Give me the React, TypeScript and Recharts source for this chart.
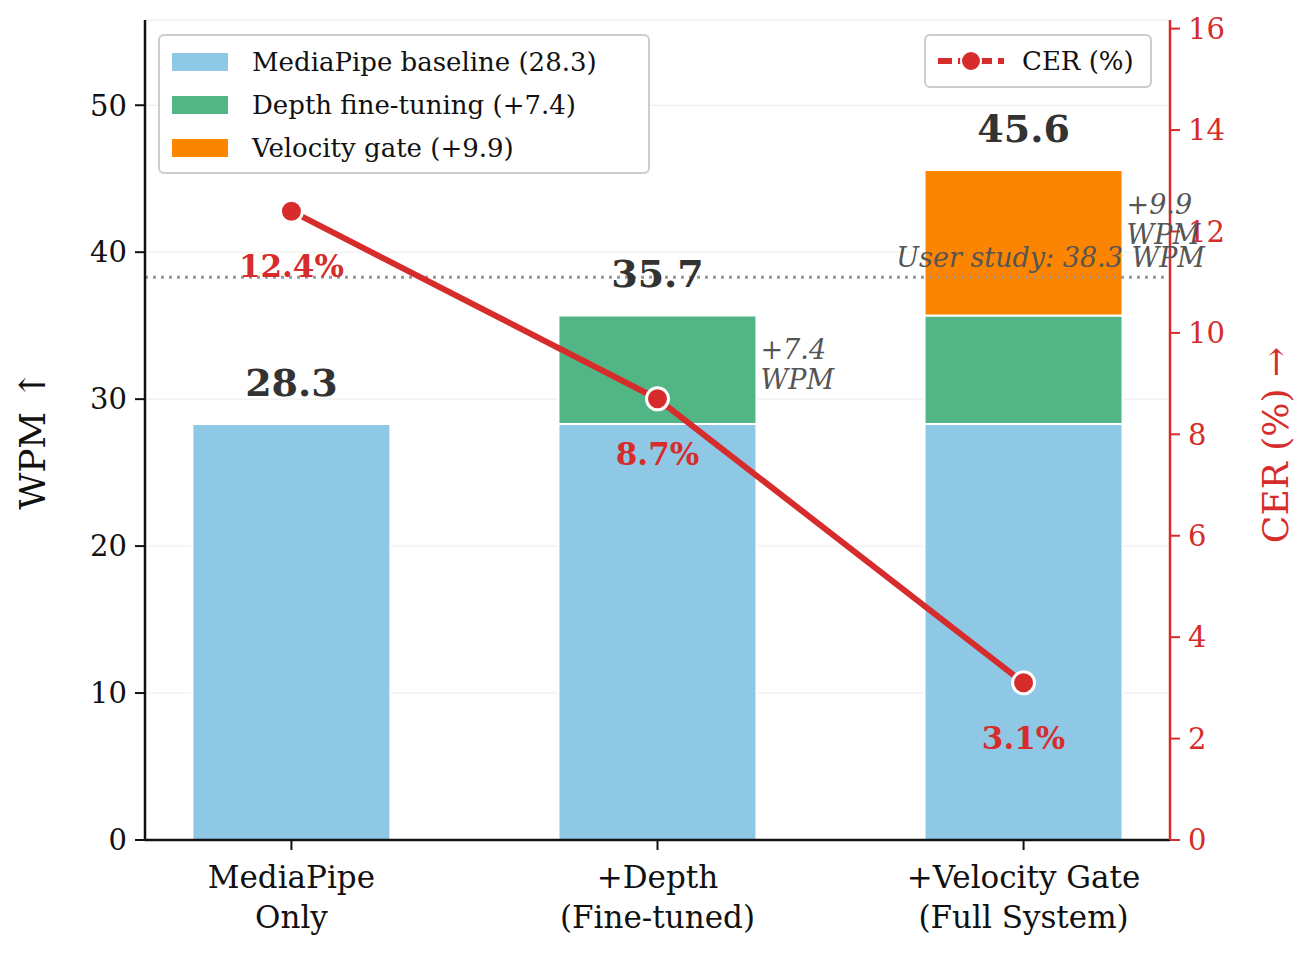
import React from "react";
import {
  ComposedChart, Bar, Line, XAxis, YAxis, CartesianGrid, ReferenceLine, LabelList,
} from "recharts";

const categories = [["MediaPipe", "Only"], ["+Depth", "(Fine-tuned)"], ["+Velocity Gate", "(Full System)"]];
const baseline = [28.3, 28.3, 28.3];
const depth = [0, 7.4, 7.4];
const velocity = [0, 0, 9.9];
const totals = [28.3, 35.7, 45.6];
const cer = [12.4, 8.7, 3.1];
const gainNotes = ["", "+7.4", "+9.9"];
const leftTicks = [0, 10, 20, 30, 40, 50];
const rightTicks = [0, 2, 4, 6, 8, 10, 12, 14, 16];
const userStudy = 38.3;

const data = categories.map((c, i) => ({
  x: i, base: baseline[i], depth: depth[i], vel: velocity[i], total: totals[i], cer: cer[i], note: gainNotes[i],
}));

const FONT = "'DejaVu Serif', serif";
const RED = "#d62c2c";
const HALF_BAR = 99;

const XTick = ({ x, y, payload }: any) => {
  const lines = categories[payload.value] || [];
  return (
    <text x={x} y={y + 6} textAnchor="middle" fontFamily={FONT} fontSize={31} fill="#111">
      {lines.map((l, i) => (
        <tspan key={i} x={x} dy={i === 0 ? 30 : 40}>{l}</tspan>
      ))}
    </text>
  );
};

const TotalLabel = ({ x, y, value }: any) => (
  <text x={x} y={y - 28} textAnchor="middle" fontFamily={FONT} fontSize={38} fontWeight="bold" fill="#333">
    {Number(value).toFixed(1)}
  </text>
);

const GainLabel = ({ x, y, index }: any) => {
  const note = gainNotes[index];
  if (!note) return null;
  const tx = x + HALF_BAR + 4;
  return (
    <text x={tx} y={y + 44} fontFamily={FONT} fontSize={27} fontStyle="italic" fill="#555">
      <tspan x={tx}>{note}</tspan>
      <tspan x={tx} dy={30}>WPM</tspan>
    </text>
  );
};

const CerLabel = ({ x, y, value }: any) => (
  <text x={x} y={y + 66} textAnchor="middle" fontFamily={FONT} fontSize={31} fontWeight="bold" fill={RED}>
    {value}%
  </text>
);

export default function App() {
  return (
    <div style={{ position: "absolute", left: 0, top: 0, width: 1315, height: 960, background: "#fff" }}>
      <ComposedChart width={1300} height={950} data={data} margin={{ top: 20, right: 70, bottom: 50, left: 85 }}>
        <CartesianGrid vertical={false} stroke="#ececec" yAxisId="l" />
        <XAxis
          dataKey="x" type="number" domain={[-0.4, 2.4]} ticks={[0, 1, 2]} height={60}
          tick={<XTick />} tickSize={10} axisLine={{ stroke: "#111", strokeWidth: 2.5 }} tickLine={{ stroke: "#111", strokeWidth: 2 }}
        />
        <YAxis
          yAxisId="l" domain={[0, 55.8]} ticks={leftTicks} width={60} tickSize={10}
          tick={{ fontFamily: FONT, fontSize: 29, fill: "#111", dx: -6 }}
          axisLine={{ stroke: "#111", strokeWidth: 2.5 }} tickLine={{ stroke: "#111", strokeWidth: 2 }}
        />
        <YAxis
          yAxisId="r" orientation="right" domain={[0, 16.17]} ticks={rightTicks} width={60} tickSize={10}
          tick={{ fontFamily: FONT, fontSize: 29, fill: RED, dx: 6 }}
          axisLine={{ stroke: RED, strokeWidth: 2.5 }} tickLine={{ stroke: RED, strokeWidth: 2 }}
        />
        <ReferenceLine
          yAxisId="l" y={userStudy} stroke="#999" strokeWidth={3} strokeDasharray="3 5"
          label={{ value: "User study: 38.3 WPM", position: "insideTopRight", fontFamily: FONT, fontSize: 27, fontStyle: "italic", fill: "#555", dy: -34, dx: 40 }}
        />
        <Bar yAxisId="l" dataKey="base" stackId="s" fill="#8fc8e4" stroke="#fff" strokeWidth={2} barSize={198} isAnimationActive={false} />
        <Bar yAxisId="l" dataKey="depth" stackId="s" fill="#52b586" stroke="#fff" strokeWidth={2} barSize={198} isAnimationActive={false} />
        <Bar yAxisId="l" dataKey="vel" stackId="s" fill="#fb8500" stroke="#fff" strokeWidth={2} barSize={198} isAnimationActive={false} />
        {/* invisible series carrying the stack totals and gain notes */}
        <Line yAxisId="l" dataKey="total" stroke="none" dot={false} activeDot={false} legendType="none" isAnimationActive={false}>
          <LabelList dataKey="total" content={<TotalLabel />} />
          <LabelList dataKey="note" content={<GainLabel />} />
        </Line>
        <Line
          yAxisId="r" dataKey="cer" stroke={RED} strokeWidth={6} isAnimationActive={false}
          dot={{ r: 11, fill: RED, stroke: "#fff", strokeWidth: 3 }}
        >
          <LabelList dataKey="cer" content={<CerLabel />} />
        </Line>
      </ComposedChart>

      <div style={{ position: "absolute", left: 32, top: 440, transform: "translate(-50%,-50%) rotate(-90deg)", fontFamily: FONT, fontSize: 36, whiteSpace: "nowrap", color: "#111" }}>
        WPM ↑
      </div>
      <div style={{ position: "absolute", left: 1275, top: 445, transform: "translate(-50%,-50%) rotate(-90deg)", fontFamily: FONT, fontSize: 36, whiteSpace: "nowrap", color: RED }}>
        CER (%) →
      </div>

      <div style={{ position: "absolute", left: 158, top: 34, width: 492, height: 140, boxSizing: "border-box", border: "2px solid #ccc", borderRadius: 6, background: "rgba(255,255,255,0.85)", padding: "4px 12px", fontFamily: FONT, fontSize: 26, color: "#111" }}>
        {[["#8fc8e4", "MediaPipe baseline (28.3)"], ["#52b586", "Depth fine-tuning (+7.4)"], ["#fb8500", "Velocity gate (+9.9)"]].map(([c, t]) => (
          <div key={t} style={{ display: "flex", alignItems: "center", height: 43 }}>
            <span style={{ width: 56, height: 18, background: c, marginRight: 24, display: "inline-block" }} />
            {t}
          </div>
        ))}
      </div>
      <div style={{ position: "absolute", left: 924, top: 34, width: 228, height: 54, boxSizing: "border-box", border: "2px solid #ccc", borderRadius: 6, background: "rgba(255,255,255,0.85)", display: "flex", alignItems: "center", padding: "0 10px", fontFamily: FONT, fontSize: 26, color: "#111" }}>
        <svg width={70} height={24} style={{ marginRight: 16 }}>
          <line x1={2} y1={12} x2={68} y2={12} stroke={RED} strokeWidth={6} strokeDasharray="14 6" />
          <circle cx={35} cy={12} r={10} fill={RED} stroke="#fff" strokeWidth={2} />
        </svg>
        CER (%)
      </div>
    </div>
  );
}
